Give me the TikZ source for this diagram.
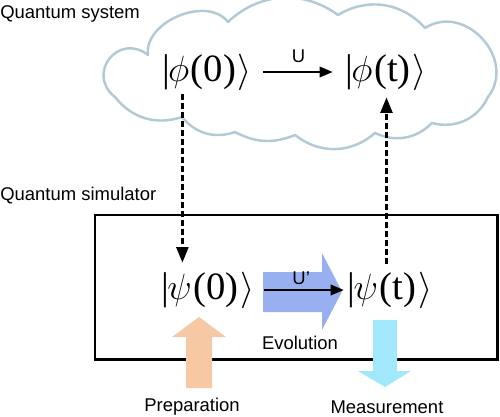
\documentclass[tikz,border=0pt]{standalone}
\usepackage{fontspec}
\setmainfont{Liberation Sans}
\newfontfamily\kserif{Liberation Serif}
\usetikzlibrary{arrows.meta,calc}
\definecolor{cloudc}{RGB}{178,202,214}
\definecolor{evoc}{RGB}{153,176,240}
\definecolor{prepc}{RGB}{246,200,164}
\definecolor{measc}{RGB}{160,232,250}
\newcommand\myket[2]{{\kserif|}\kern-1pt$#1$\kern1pt{\kserif(#2)}\kern1pt$\rangle$}
\begin{document}
\begin{tikzpicture}[x=0.02cm,y=0.02cm,
  lbl/.style={font=\fontsize{10.5}{12}\selectfont, inner sep=0pt},
  ket/.style={font=\fontsize{22}{26}\selectfont, inner sep=1pt},
  cloudline/.style={draw=cloudc, line width=1.4pt, fill=white, line join=round},
  dasharrow/.style={line width=2pt, dash pattern=on 3.4pt off 1.7pt, -{Triangle[width=6.5pt,length=9pt]}},
  evoarrow/.style={line width=1.1pt, -{Triangle[width=6pt,length=7.5pt]}, shorten <=5pt, shorten >=6pt}
]
\useasboundingbox (0,0) rectangle (500,-416);

% cloud
\draw[cloudline] (148,-55) to[bend left=75] (228,-22) to[bend left=40] (338,-15)
  to[bend left=40] (425,-28) to[bend left=80, looseness=1.3] (488,-97)
  to[bend left=40] (432,-123) to[bend left=35] (375,-133) to[bend left=40] (295,-135)
  to[bend left=25] (235,-132) to[bend left=35] (182,-117) to[bend left=35] (115,-97)
  to[bend left=90, looseness=1.8] (148,-55) -- cycle;

\node[lbl, anchor=west] (qs) at (0,-14) {Quantum system};
\node[lbl, anchor=west] (qsim) at (0,-196) {Quantum simulator};

% simulator box
\draw[line width=1.7pt] (95,-215) rectangle (497,-359);

% big arrows
\fill[evoc] (263,-272) -- (322,-272) -- (322,-253) -- (342,-291.5) -- (322,-330) -- (322,-312) -- (263,-312) -- cycle;
\fill[prepc] (186,-388) -- (186,-337) -- (172,-337) -- (199,-317) -- (226,-337) -- (212,-337) -- (212,-388) -- cycle;
\fill[measc] (373,-320) -- (397,-320) -- (397,-371) -- (411,-371) -- (385,-387) -- (358,-371) -- (373,-371) -- cycle;

% kets
\node[ket] (phi0) at (207,-72) {\myket{\phi}{0}};
\node[ket] (phit) at (386,-72) {\myket{\phi}{t}};
\node[ket] (psi0) at (208,-290) {\myket{\psi}{0}};
\node[ket] (psit) at (390,-290) {\myket{\psi}{t}};

% arrows
\draw[evoarrow] (phi0) -- node[lbl, above=5pt] (ulbl) {U} (phit);
\draw[evoarrow, shorten <=4pt, shorten >=1pt] (psi0) -- node[lbl, above=2.5pt] (uplbl) {U'} (psit);
\draw[dasharrow] ([xshift=-14]phi0.south) ++(0,-2) coordinate (d1s) -- (d1s |- 0,-263) coordinate (d1e);
\draw[dasharrow] ([xshift=-2]psit.north) ++(0,6) coordinate (d2s) -- (d2s |- 0,-97) coordinate (d2e);

\node[lbl] (evo) at (300,-343) {Evolution};
\node[lbl] (prep) at (192,-407) {Preparation};
\node[lbl] (meas) at (387,-407) {Measurement};
\end{tikzpicture}
\end{document}
